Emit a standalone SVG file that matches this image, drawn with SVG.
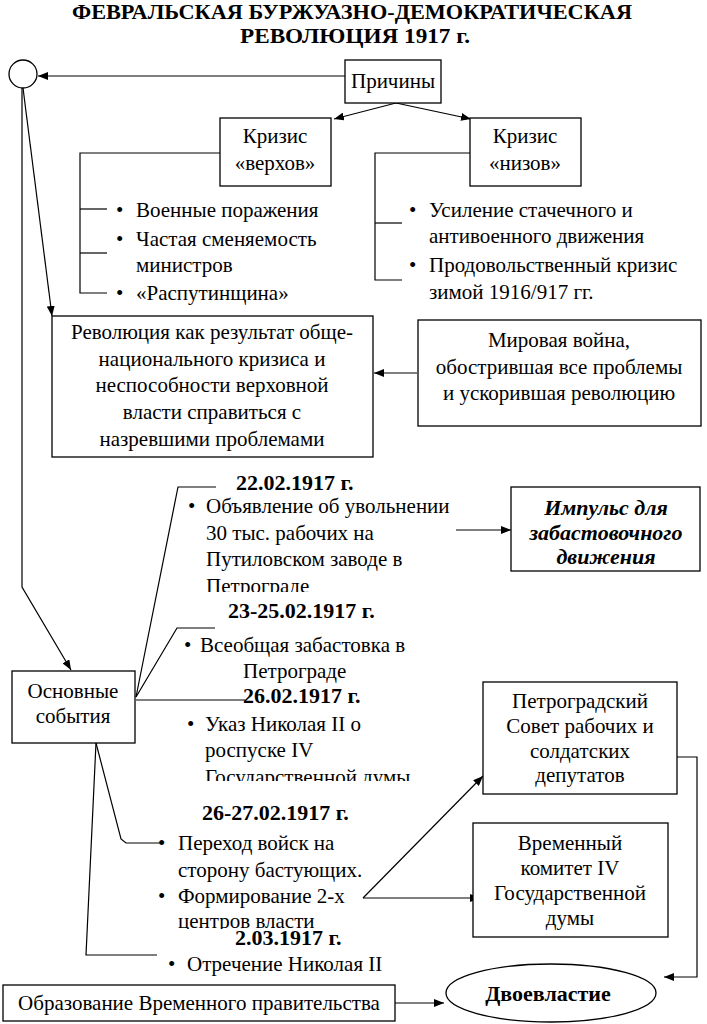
<svg xmlns="http://www.w3.org/2000/svg" width="707" height="1024" viewBox="0 0 707 1024">
<style>
.t{font-family:"Liberation Serif","Times New Roman",serif;font-size:21px;fill:#000}
.c{text-anchor:middle}
.b{font-weight:bold;font-size:22px}
.i{font-style:italic}
.bx{fill:#fff;stroke:#000;stroke-width:1.3}
.ln{fill:none;stroke:#000;stroke-width:1.2}
.ar{marker-end:url(#ah)}
</style>
<defs>
<marker id="ah" markerWidth="10" markerHeight="8" refX="10" refY="4" orient="auto" markerUnits="userSpaceOnUse">
<path d="M0,0 L10,4 L0,8 z" fill="#000"/>
</marker>
<clipPath id="cp1"><rect x="150" y="470" width="320" height="122"/></clipPath>
<clipPath id="cp2"><rect x="150" y="705" width="320" height="76"/></clipPath>
<clipPath id="cp3"><rect x="150" y="880" width="320" height="49"/></clipPath>
</defs>
<rect width="707" height="1024" fill="#fff"/>

<g id="title">
<text class="t b c" x="352" y="19" textLength="560" lengthAdjust="spacingAndGlyphs">ФЕВРАЛЬСКАЯ БУРЖУАЗНО-ДЕМОКРАТИЧЕСКАЯ</text>
<text class="t b c" x="355" y="43" textLength="230" lengthAdjust="spacingAndGlyphs">РЕВОЛЮЦИЯ 1917 г.</text>
</g>

<g id="connectors">
<line class="ln ar" x1="345" y1="76" x2="38" y2="76"/>
<line class="ln ar" x1="396" y1="103" x2="334" y2="119"/>
<line class="ln ar" x1="396" y1="103" x2="471" y2="119"/>
<polyline class="ln" points="220,153 80,153 80,293 107,293"/>
<line class="ln" x1="80" y1="209" x2="107" y2="209"/>
<line class="ln" x1="80" y1="253" x2="107" y2="253"/>
<polyline class="ln" points="470,153 375,153 375,280 402,280"/>
<line class="ln" x1="375" y1="223" x2="402" y2="223"/>
<line class="ln ar" x1="23" y1="88" x2="52" y2="316"/>
<polyline class="ln ar" points="22,88 22,587 71,670"/>
<line class="ln ar" x1="417" y1="373" x2="374" y2="373"/>
<polyline class="ln" points="136,697 178,487 216,487"/>
<polyline class="ln" points="136,697 177,628 215,628"/>
<line class="ln" x1="136" y1="700" x2="245" y2="700"/>
<polyline class="ln" points="96,743 121,839 126,843 163,843"/>
<polyline class="ln" points="96,743 86,955 157,955"/>
<line class="ln ar" x1="456" y1="530" x2="511" y2="530"/>
<line class="ln ar" x1="363" y1="898" x2="483" y2="776"/>
<line class="ln ar" x1="363" y1="898" x2="480" y2="898"/>
<polyline class="ln ar" points="669,757 697,757 697,977 664,977"/>
<line class="ln ar" x1="395" y1="1003" x2="444" y2="1003"/>
</g>

<g id="circle">
<ellipse cx="23" cy="74" rx="14" ry="14" fill="#fff" stroke="#000" stroke-width="1.3"/>
</g>

<g id="prichiny">
<rect class="bx" x="345" y="60" width="96" height="43"/>
<text class="t c" x="393" y="88">Причины</text>
</g>

<g id="krizis-verhov">
<rect class="bx" x="220" y="118" width="111" height="68"/>
<text class="t c" x="275" y="143">Кризис</text>
<text class="t c" x="275" y="170">«верхов»</text>
</g>

<g id="krizis-nizov">
<rect class="bx" x="470" y="118" width="111" height="68"/>
<text class="t c" x="525" y="143">Кризис</text>
<text class="t c" x="525" y="170">«низов»</text>
</g>

<g id="verhi-list">
<text class="t" x="116" y="217">•</text><text class="t" x="136" y="217">Военные поражения</text>
<text class="t" x="116" y="246">•</text><text class="t" x="136" y="246">Частая сменяемость</text>
<text class="t" x="136" y="272">министров</text>
<text class="t" x="116" y="300">•</text><text class="t" x="136" y="300">«Распутинщина»</text>
</g>

<g id="nizy-list">
<text class="t" x="409" y="217">•</text><text class="t" x="429" y="217">Усиление стачечного и</text>
<text class="t" x="429" y="243">антивоенного движения</text>
<text class="t" x="409" y="272">•</text><text class="t" x="429" y="272">Продовольственный кризис</text>
<text class="t" x="429" y="299">зимой 1916/917 гг.</text>
</g>

<g id="revolution">
<rect class="bx" x="52" y="316" width="321" height="141"/>
<text class="t c" x="212" y="339">Революция как результат обще-</text>
<text class="t c" x="212" y="366">национального кризиса и</text>
<text class="t c" x="212" y="392">неспособности верховной</text>
<text class="t c" x="212" y="419">власти справиться с</text>
<text class="t c" x="212" y="446">назревшими проблемами</text>
</g>

<g id="war">
<rect class="bx" x="418" y="320" width="283" height="106"/>
<text class="t c" x="559" y="347">Мировая война,</text>
<text class="t c" x="559" y="374">обострившая все проблемы</text>
<text class="t c" x="559" y="400">и ускорившая революцию</text>
</g>

<g id="event-22">
<text class="t b" x="236" y="490">22.02.1917 г.</text>
<g clip-path="url(#cp1)">
<text class="t" x="188" y="513">•</text><text class="t" x="206" y="513">Объявление об увольнении</text>
<text class="t" x="206" y="540">30 тыс. рабочих на</text>
<text class="t" x="206" y="566">Путиловском заводе в</text>
<text class="t" x="206" y="593">Петрограде</text>
</g>
</g>

<g id="impulse">
<rect class="bx" x="511" y="487" width="189" height="84"/>
<text class="t c b i" x="606" y="515">Импульс для</text>
<text class="t c b i" x="606" y="540">забастовочного</text>
<text class="t c b i" x="606" y="564">движения</text>
</g>

<g id="event-23">
<text class="t b" x="228" y="618">23-25.02.1917 г.</text>
<text class="t" x="184" y="652">•</text><text class="t" x="200" y="652">Всеобщая забастовка в</text>
<text class="t" x="243" y="678">Петрограде</text>
</g>

<g id="osnovnye">
<rect class="bx" x="12" y="671" width="123" height="72"/>
<text class="t c" x="73" y="698">Основные</text>
<text class="t c" x="73" y="723">события</text>
</g>

<g id="event-26">
<text class="t b" x="243" y="703">26.02.1917 г.</text>
<g clip-path="url(#cp2)">
<text class="t" x="187" y="731">•</text><text class="t" x="205" y="731">Указ Николая II о</text>
<text class="t" x="205" y="757">роспуске IV</text>
<text class="t" x="205" y="784">Государственной думы</text>
</g>
</g>

<g id="petrosovet">
<rect class="bx" x="483" y="682" width="194" height="112"/>
<text class="t c" x="580" y="708">Петроградский</text>
<text class="t c" x="580" y="733">Совет рабочих и</text>
<text class="t c" x="580" y="758">солдатских</text>
<text class="t c" x="580" y="782">депутатов</text>
</g>

<g id="event-26-27">
<text class="t b" x="202" y="820">26-27.02.1917 г.</text>
<text class="t" x="158" y="850">•</text><text class="t" x="178" y="850">Переход войск на</text>
<text class="t" x="178" y="877">сторону бастующих.</text>
<text class="t" x="158" y="903">•</text><text class="t" x="178" y="903">Формирование 2-х</text>
<g clip-path="url(#cp3)">
<text class="t" x="178" y="928">центров власти</text>
</g>
</g>

<g id="vremkom">
<rect class="bx" x="473" y="823" width="195" height="114"/>
<text class="t c" x="570" y="850">Временный</text>
<text class="t c" x="570" y="875">комитет IV</text>
<text class="t c" x="570" y="900">Государственной</text>
<text class="t c" x="570" y="925">думы</text>
</g>

<g id="event-2-03">
<text class="t b" x="235" y="945">2.03.1917 г.</text>
<text class="t" x="168" y="971">•</text><text class="t" x="187" y="971">Отречение Николая II</text>
</g>

<g id="vremprav">
<rect class="bx" x="3" y="985" width="392" height="36"/>
<text class="t c" x="199" y="1010">Образование Временного правительства</text>
</g>

<g id="dvoevlastie">
<ellipse cx="551" cy="993" rx="105" ry="29" fill="#fff" stroke="#000" stroke-width="1.3"/>
<text class="t c b" x="548" y="1001">Двоевластие</text>
</g>
</svg>
